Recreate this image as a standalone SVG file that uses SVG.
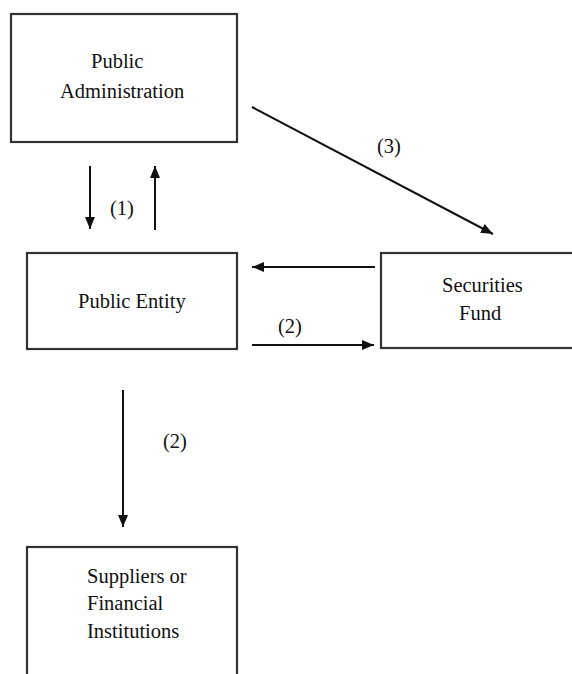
<svg xmlns="http://www.w3.org/2000/svg" width="572" height="674" viewBox="0 0 572 674">
<style>
.box{fill:#fff;stroke:#333;stroke-width:2.2}
.t{font-family:'Liberation Serif','Times New Roman',serif;font-size:20.5px;fill:#111}
.c{stroke:#111;stroke-width:2;fill:none}
</style>
<defs>
<marker id="ah" viewBox="0 0 12 10" refX="12" refY="5" markerWidth="12" markerHeight="10" markerUnits="userSpaceOnUse" orient="auto">
<path d="M0,0 L12,5 L0,10 Z" fill="#111"/>
</marker>
</defs>
<rect width="572" height="674" fill="#fff"/>
<g id="public-administration">
<rect class="box" x="11" y="14" width="226" height="128"/>
<text class="t" x="91" y="68">Public</text>
<text class="t" x="60" y="98">Administration</text>
</g>
<g id="public-entity">
<rect class="box" x="27" y="253" width="210" height="96"/>
<text class="t" x="78" y="308">Public Entity</text>
</g>
<g id="securities-fund">
<rect class="box" x="381" y="253" width="200" height="95"/>
<text class="t" x="442" y="292">Securities</text>
<text class="t" x="459" y="320">Fund</text>
</g>
<g id="suppliers">
<rect class="box" x="27" y="547" width="210" height="140"/>
<text class="t" x="87" y="583">Suppliers or</text>
<text class="t" x="87" y="610">Financial</text>
<text class="t" x="87" y="638">Institutions</text>
</g>
<g id="connectors">
<line class="c" x1="90" y1="166" x2="90" y2="229" marker-end="url(#ah)"/>
<line class="c" x1="155" y1="230" x2="155" y2="166" marker-end="url(#ah)"/>
<text class="t" x="110" y="215">(1)</text>
<line class="c" x1="252" y1="107" x2="493" y2="234" marker-end="url(#ah)"/>
<text class="t" x="377" y="153">(3)</text>
<line class="c" x1="375" y1="267" x2="252" y2="267" marker-end="url(#ah)"/>
<line class="c" x1="252" y1="345" x2="374" y2="345" marker-end="url(#ah)"/>
<text class="t" x="278" y="333">(2)</text>
<line class="c" x1="123" y1="390" x2="123" y2="527" marker-end="url(#ah)"/>
<text class="t" x="163" y="448">(2)</text>
</g>
</svg>
